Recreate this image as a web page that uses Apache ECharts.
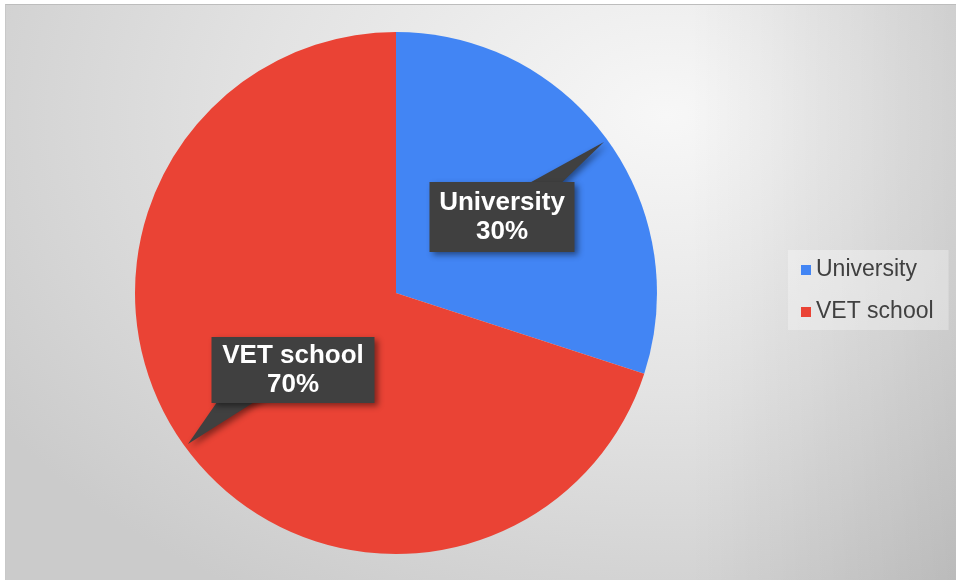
<!DOCTYPE html>
<html>
<head>
<meta charset="utf-8">
<script src="https://cdn.jsdelivr.net/npm/echarts@6/dist/echarts.min.js"></script>
<style>
  html, body { margin: 0; padding: 0; background: #ffffff; }
  #frame {
    position: absolute; left: 5px; top: 4px; width: 950px; height: 575px;
    border-top: 1px solid #bdbdbd; border-left: 1px solid #c8c8c8;
    background:
      linear-gradient(to right, rgba(0,0,0,0) 72%, rgba(0,0,0,0.1) 100%),
      radial-gradient(ellipse 800px 560px at 660px 110px, #f7f7f7 0%, #e3e3e3 50%, #cbcbcb 100%);
  }
  #chart { position: absolute; left: 0; top: 0; width: 956px; height: 580px; }
</style>
</head>
<body>
<div id="frame"></div>
<div id="chart"></div>
<script>
// Share of students by destination
const categories = ['University', 'VET school'];
const shares = [30, 70];
const sliceColors = ['#4285F4', '#EA4335'];

const FONT = '"Liberation Sans", Arial, sans-serif';
const CENTER = [396, 293];
const RADIUS = 261;

// Callout boxes: centre, size, and the base of the pointer wedge on each box
const calloutCentre = [[502, 217], [293, 370]];
const calloutSize = [[145, 70], [163, 66]];
const wedgeBase = [[[513, 192], [552, 192]], [[224, 392], [270, 392]]];

const chart = echarts.init(document.getElementById('chart'), null, { renderer: 'canvas' });

const shadow = {
  shadowBlur: 6,
  shadowOffsetX: 3,
  shadowOffsetY: 3,
  shadowColor: 'rgba(0,0,0,0.45)'
};

// Pointer tips sit on the rim at each slice's mid angle (clockwise from 12 o'clock)
const total = shares.reduce((a, b) => a + b, 0);
let acc = 0;
const callouts = [];
shares.forEach((v, i) => {
  const mid = (acc + v / 2) / total * 2 * Math.PI;
  acc += v;
  const r = RADIUS * 0.985;
  const tip = [CENTER[0] + r * Math.sin(mid), CENTER[1] - r * Math.cos(mid)];
  const c = calloutCentre[i];
  const s = calloutSize[i];
  callouts.push({
    type: 'polygon',
    z: 10,
    shape: { points: [wedgeBase[i][0], tip, wedgeBase[i][1]] },
    style: Object.assign({ fill: '#404040' }, shadow)
  });
  callouts.push({
    type: 'rect',
    z: 11,
    shape: { x: c[0] - s[0] / 2, y: c[1] - s[1] / 2, width: s[0], height: s[1] },
    style: Object.assign({ fill: '#404040' }, shadow)
  });
  callouts.push({
    type: 'text',
    z: 12,
    x: c[0],
    y: c[1],
    style: {
      text: categories[i] + '\n' + Math.round(v / total * 100) + '%',
      font: 'bold 26px ' + FONT,
      lineHeight: 29,
      fill: '#ffffff',
      align: 'center',
      verticalAlign: 'middle'
    }
  });
});

const option = {
  animation: false,
  graphic: callouts,
  legend: {
    orient: 'vertical',
    left: 788,
    top: 250,
    padding: [8, 15, 6, 13],
    backgroundColor: 'rgba(255,255,255,0.3)',
    itemWidth: 10,
    itemHeight: 10,
    itemGap: 18,
    icon: 'rect',
    data: categories,
    textStyle: { fontFamily: FONT, fontSize: 23, lineHeight: 24, color: '#404040' }
  },
  series: [
    {
      type: 'pie',
      center: CENTER,
      radius: RADIUS,
      startAngle: 90,
      clockwise: true,
      silent: true,
      data: categories.map((name, i) => ({
        name: name,
        value: shares[i],
        itemStyle: { color: sliceColors[i] }
      })),
      label: { show: false },
      labelLine: { show: false }
    }
  ]
};

chart.setOption(option);
</script>
</body>
</html>
